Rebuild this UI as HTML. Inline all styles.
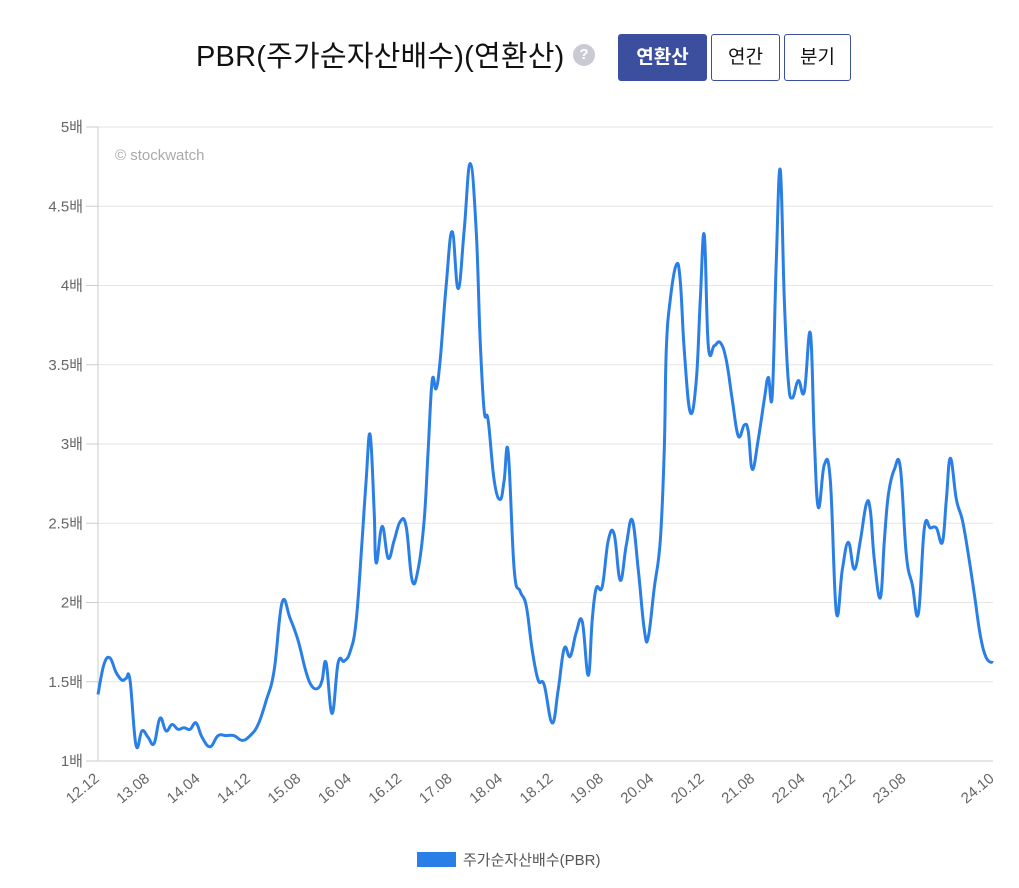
<!DOCTYPE html>
<html><head><meta charset="utf-8"><style>
body{margin:0;background:#fff;width:1019px;height:888px;overflow:hidden;font-family:"Liberation Sans","Noto Sans CJK KR",sans-serif;}
.title{position:absolute;left:196px;top:33px;font-size:29px;color:#111;letter-spacing:0.2px;}
.help{position:absolute;left:573px;top:44px;width:22px;height:22px;border-radius:50%;background:#c8cad4;color:#fff;font-size:15px;font-weight:bold;text-align:center;line-height:22px;}
.btn{position:absolute;top:34px;height:45px;border:1px solid #3c4f9e;border-radius:3px;background:#fff;color:#111;font-size:19px;line-height:45px;text-align:center;}
.btn.on{background:#3c4f9e;color:#fff;font-weight:bold;}
</style></head><body>
<div class="title">PBR(주가순자산배수)(연환산)</div>
<div class="help">?</div>
<div class="btn on" style="left:618px;width:87px">연환산</div>
<div class="btn" style="left:711px;width:67px">연간</div>
<div class="btn" style="left:784px;width:65px">분기</div>
<svg id="chart" width="1019" height="888" style="position:absolute;left:0;top:0"></svg>
<script>
const yTicks=[1,1.5,2,2.5,3,3.5,4,4.5,5];
const yTickLabels=["1배","1.5배","2배","2.5배","3배","3.5배","4배","4.5배","5배"];
const xTickMonths=[0,8,16,24,32,40,48,56,64,72,80,88,96,104,112,120,128,142];
const xTickLabels=["12.12","13.08","14.04","14.12","15.08","16.04","16.12","17.08","18.04","18.12","19.08","20.04","20.12","21.08","22.04","22.12","23.08","24.10"];
const months=[0,0.95,1.9,2.86,3.81,4.44,5.08,6.03,6.98,7.94,8.89,9.84,10.79,11.75,12.7,13.65,14.6,15.56,16.51,17.78,19.05,20.32,21.59,22.86,24.13,25.4,26.67,27.94,29.21,30.48,31.75,33.02,33.97,34.92,35.56,36.19,37.14,38.1,39.05,40,40.95,41.9,42.54,43.17,43.81,44.13,45.08,46.03,46.98,47.94,48.89,49.84,50.79,51.75,52.38,53.02,53.65,54.29,55.24,56.19,57.14,58.1,59.05,60,60.63,61.27,61.9,62.86,63.81,64.44,65.08,66.03,66.98,67.94,68.89,69.84,70.79,72.06,73.02,73.97,74.92,75.87,76.83,77.78,78.41,79.05,80,80.95,81.9,82.86,83.81,84.76,85.71,86.67,87.3,88.25,89.21,89.84,90.16,90.79,91.75,92.38,93.02,93.97,94.92,95.56,96.19,96.83,97.78,98.73,99.68,100.63,101.59,102.54,103.17,103.81,104.76,105.71,106.35,106.98,107.62,108.25,108.89,109.52,110.16,111.11,112.06,113.02,113.65,114.29,115.24,116.19,117.14,118.1,119.05,120,120.95,121.9,122.54,123.17,124.13,124.76,125.4,126.35,127.3,128.25,129.21,130.16,131.11,132.06,133.02,133.97,134.6,135.24,136.19,137.14,138.1,139.05,140,140.95,142];
const pbr=[1.42,1.61,1.65,1.56,1.51,1.52,1.51,1.10,1.19,1.15,1.11,1.27,1.19,1.23,1.20,1.21,1.20,1.24,1.15,1.09,1.16,1.16,1.16,1.13,1.16,1.23,1.38,1.57,2.0,1.90,1.76,1.56,1.47,1.46,1.51,1.62,1.30,1.62,1.63,1.69,1.88,2.39,2.77,3.06,2.58,2.25,2.48,2.28,2.39,2.51,2.48,2.14,2.21,2.52,2.96,3.40,3.35,3.53,4.00,4.34,3.98,4.35,4.77,4.35,3.66,3.21,3.15,2.77,2.65,2.77,2.95,2.21,2.07,1.98,1.70,1.51,1.48,1.24,1.45,1.71,1.66,1.81,1.88,1.54,1.89,2.09,2.10,2.39,2.43,2.14,2.36,2.52,2.21,1.83,1.78,2.09,2.39,2.96,3.59,3.91,4.13,4.03,3.59,3.20,3.40,3.91,4.32,3.62,3.62,3.64,3.53,3.28,3.05,3.12,3.08,2.84,3.03,3.28,3.42,3.31,4.16,4.73,3.91,3.40,3.29,3.40,3.33,3.70,3.03,2.60,2.87,2.77,1.94,2.21,2.38,2.21,2.39,2.62,2.58,2.27,2.03,2.39,2.68,2.84,2.85,2.30,2.11,1.93,2.47,2.47,2.47,2.38,2.65,2.91,2.65,2.52,2.30,2.05,1.79,1.65,1.62];
const X0=98,X1=993,Y0=761,Y1=127;
const xs=m=>X0+(m/142)*(X1-X0);
const ys=v=>Y0-(v-1)/4*(Y0-Y1);
const svg=document.getElementById('chart');
const NS='http://www.w3.org/2000/svg';
function mk(tag,attrs){const e=document.createElementNS(NS,tag);for(const k in attrs)e.setAttribute(k,attrs[k]);svg.appendChild(e);return e;}
yTicks.forEach((v,i)=>{
  const g=mk('line',{x1:X0,x2:X1,y1:ys(v),y2:ys(v),stroke:i===0?'#ccc':'#e6e6e6','stroke-width':1});
  
  
  const tk=mk('line',{x1:86,x2:X0,y1:ys(v),y2:ys(v),stroke:'#ccc'});
  
  
  const t=mk('text',{x:83,y:ys(v)+5,'text-anchor':'end','font-size':15,fill:'#666'});
  t.textContent=yTickLabels[i];
  
  
});
const ax=mk('line',{x1:X0,x2:X0,y1:Y1,y2:Y0,stroke:'#ccc'});


xTickMonths.forEach((m,i)=>{
  const x=xs(m);
  const t=mk('text',{x:x+2,y:780,'text-anchor':'end','font-size':15,fill:'#666',transform:`rotate(-40 ${x+2} 780)`});
  t.textContent=xTickLabels[i];
  
  
});
const wm=mk('text',{x:115,y:160,'font-size':15,fill:'#aaa'});
wm.textContent='© stockwatch';


const P=months.map((m,i)=>[xs(m),ys(pbr[i])]);
let d=`M${P[0][0]},${P[0][1]}`;
for(let i=0;i<P.length-1;i++){
  const p0=P[i-1]||P[i],p1=P[i],p2=P[i+1],p3=P[i+2]||P[i+1];
  const k=0.2;
  d+=` C${p1[0]+(p2[0]-p0[0])*k},${p1[1]+(p2[1]-p0[1])*k} ${p2[0]-(p3[0]-p1[0])*k},${p2[1]-(p3[1]-p1[1])*k} ${p2[0]},${p2[1]}`;
}
const line=mk('path',{d:d,fill:'none',stroke:'#2a7fe6','stroke-width':3,'stroke-linejoin':'round'});


const lr=mk('rect',{x:417,y:852,width:39,height:15,fill:'#2a7fe6'});


const lt=mk('text',{x:463,y:865,'font-size':15,fill:'#555'});
lt.textContent='주가순자산배수(PBR)';


</script>
</body></html>
